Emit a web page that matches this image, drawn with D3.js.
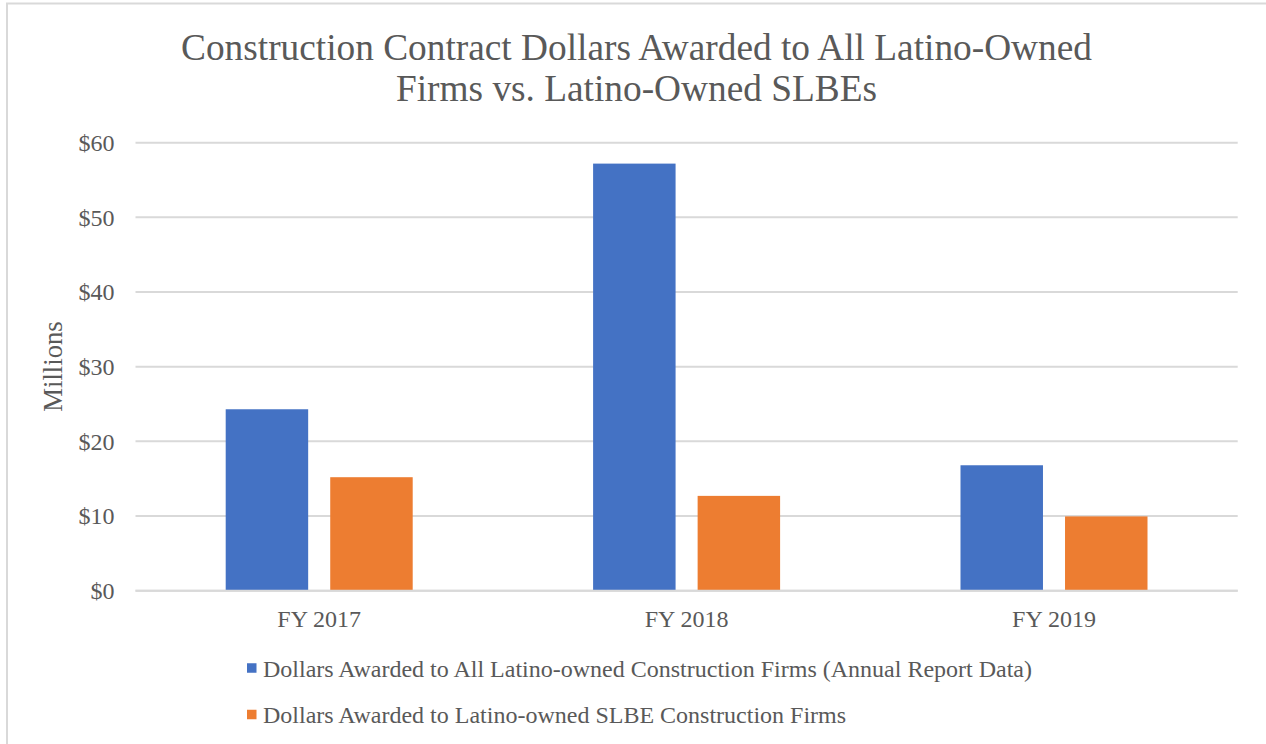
<!DOCTYPE html>
<html>
<head>
<meta charset="utf-8">
<script src="https://cdn.jsdelivr.net/npm/d3@7"></script>
<style>
  html, body { margin: 0; padding: 0; background: #fff; }
  svg { display: block; }
</style>
</head>
<body>
<svg id="chart" width="1266" height="744"></svg>
<script>
// Fiscal years on the x axis
const categories = ["FY 2017", "FY 2018", "FY 2019"];
// Series names (legend order)
const seriesNames = [
  "Dollars Awarded to All Latino-owned Construction Firms (Annual Report Data)",
  "Dollars Awarded to Latino-owned SLBE Construction Firms"
];
// Values in millions of dollars
const allLatinoFirms = [24.3, 57.2, 16.8];
const latinoSLBEFirms = [15.2, 12.7, 9.95];
// Y axis ticks (millions)
const yTicks = [0, 10, 20, 30, 40, 50, 60];
const colors = ["#4472c4", "#ed7d31"];

const FONT = "Liberation Serif";
const TEXT_COLOR = "#595959";

const svg = d3.select("#chart");

// Outer chart frame
svg.append("rect")
  .attr("x", 7).attr("y", 3.5)
  .attr("width", 1300).attr("height", 800)
  .attr("fill", "#fff")
  .attr("stroke", "#d9d9d9").attr("stroke-width", 2);

const plot = { left: 135.5, right: 1237.7, top: 142.7, bottom: 590.7 };

const y = d3.scaleLinear().domain([0, 60]).range([plot.bottom, plot.top]);
const x0 = d3.scaleBand().domain(categories).range([plot.left, plot.right]).padding(0);
const groupInset = 90.2;
const x1 = d3.scaleBand().domain([0, 1])
  .range([groupInset, x0.bandwidth() - groupInset])
  .paddingInner(0.211).paddingOuter(0);

function styleText(sel, size) {
  sel.style("font-family", FONT).style("font-size", size + "px").style("fill", TEXT_COLOR);
}

// Title
const title = svg.append("text").attr("text-anchor", "middle").call(styleText, 37.33);
title.append("tspan").attr("x", 636.5).attr("y", 59.5)
  .text("Construction Contract Dollars Awarded to All Latino-Owned");
title.append("tspan").attr("x", 636.5).attr("y", 100.5)
  .text("Firms vs. Latino-Owned SLBEs");

// Gridlines
svg.append("g")
  .selectAll("line")
  .data(yTicks)
  .join("line")
  .attr("x1", plot.left).attr("x2", plot.right)
  .attr("y1", d => y(d)).attr("y2", d => y(d))
  .attr("stroke", "#d9d9d9").attr("stroke-width", 2);

// Y axis labels
const yAxis = d3.axisLeft(y).tickValues(yTicks).tickFormat(d => "$" + d).tickSize(0).tickPadding(0);
const yg = svg.append("g").attr("transform", `translate(${114.5},0)`).call(yAxis);
yg.select(".domain").remove();
yg.selectAll("text").call(styleText, 24);

// Y axis title
svg.append("text")
  .attr("transform", `translate(62,366.5) rotate(-90)`)
  .attr("text-anchor", "middle")
  .call(styleText, 26.67)
  .text("Millions");

// Bars
const rows = categories.map((c, i) => ({ cat: c, vals: [allLatinoFirms[i], latinoSLBEFirms[i]] }));
const groups = svg.append("g").selectAll("g")
  .data(rows)
  .join("g")
  .attr("transform", d => `translate(${x0(d.cat)},0)`);
groups.selectAll("rect")
  .data(d => d.vals.map((v, k) => ({ v, k })))
  .join("rect")
  .attr("x", d => x1(d.k))
  .attr("width", x1.bandwidth())
  .attr("y", d => y(d.v))
  .attr("height", d => y(0) - y(d.v))
  .attr("fill", d => colors[d.k]);

// Baseline
svg.append("line")
  .attr("x1", plot.left).attr("x2", plot.right)
  .attr("y1", y(0)).attr("y2", y(0))
  .attr("stroke", "#d9d9d9").attr("stroke-width", 2);

// X axis labels
const xAxis = d3.axisBottom(x0).tickSize(0).tickPadding(0);
const xg = svg.append("g").attr("transform", `translate(0,${610})`).call(xAxis);
xg.select(".domain").remove();
xg.selectAll("text").call(styleText, 24);

// Legend
const legend = svg.append("g");
const legendRows = [668, 714.5];
seriesNames.forEach((name, k) => {
  legend.append("rect")
    .attr("x", 247).attr("y", legendRows[k] - 4.75)
    .attr("width", 9.5).attr("height", 9.5)
    .attr("fill", colors[k]);
  legend.append("text")
    .attr("x", 263).attr("y", legendRows[k] + 8.5)
    .call(styleText, 24)
    .text(name);
});
</script>
</body>
</html>
